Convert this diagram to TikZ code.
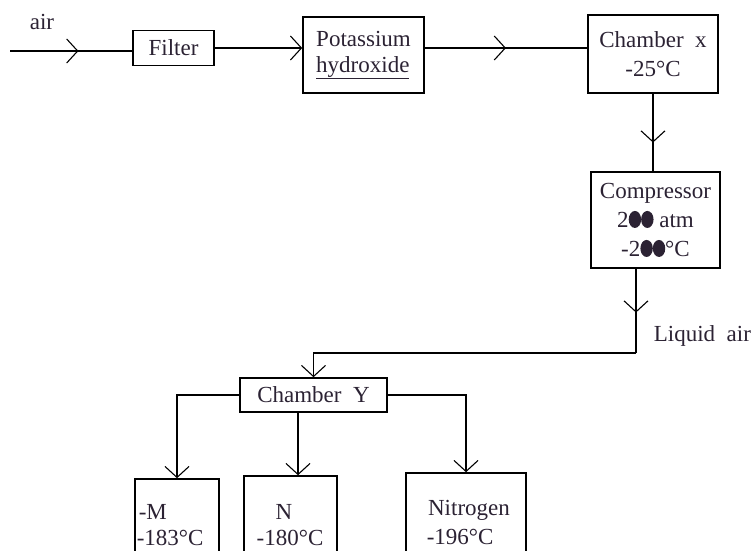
\documentclass[tikz,border=0pt]{standalone}
\usepackage{fontspec}
\setmainfont{Liberation Serif}
\usetikzlibrary{arrows.meta,decorations.markings,calc}
\definecolor{ink}{HTML}{2B2233}
\newcommand\blobchar{\tikz[baseline=0pt]\fill[ink] (0.27em,0.34em) ellipse[x radius=0.27em,y radius=0.37em];}
\tikzset{
  box/.style={draw=black, line width=1.6pt, inner sep=0pt},
  lbl/.style={inner sep=0pt, text=ink, font=\fontsize{23}{29}\selectfont},
  flowmid/.style={postaction={decorate},decoration={markings,mark=at position #1 with {\arrow{>}}}},
}
\begin{document}
\begin{tikzpicture}[x=1pt,y=-1pt, line width=1.6pt,
  >={Straight Barb[length=11pt,width=24pt,line width=1.1pt]},
  every node/.style={text=ink, font=\fontsize{23}{29}\selectfont}]
\useasboundingbox (0,0) rectangle (752,551);
\clip (0,0) rectangle (752,551);

% boxes
\node[box, minimum width=81pt, minimum height=35pt] (filter) at (173.5,48) {Filter};
\node[box, minimum width=121pt, minimum height=76pt, align=left, font=\fontsize{23}{26}\selectfont] (pot) at (363.5,55) {Potassium\\\underline{hydroxide}};
\node[box, minimum width=130pt, minimum height=78pt, align=center] (chx) at (653,54) {Chamber\ \ x\\-25°C};
\node[box, minimum width=129pt, minimum height=96pt, align=center] (comp) at (655.5,220) {Compressor\\2\blobchar\blobchar\ atm\\-2\blobchar\blobchar°C};
\node[box, minimum width=147pt, minimum height=34pt] (chy) at (313.5,395) {Chamber\ \ Y};
\node[box, minimum width=84pt, minimum height=91pt] (mbox) at (177,524.5) {};
\node[box, minimum width=93pt, minimum height=94pt] (nbox) at (290.5,523) {};
\node[box, minimum width=120pt, minimum height=97pt] (nitbox) at (466,521.5) {};

% labels
\node[lbl, anchor=west] (mname) at (138,512) {-M};
\node[lbl, anchor=west] (mtemp) at (136,538) {-183°C};
\node[lbl] (nname) at (284,512) {N};
\node[lbl] (ntemp) at (290,538) {-180°C};
\node[lbl] (nitname) at (469,510) {Nitrogen};
\node[lbl, anchor=west] (nittemp) at (426,537) {-196°C};
\node[lbl] (airlbl) at (42,22) {air};
\node[lbl, anchor=west] (liqlbl) at (653,336) {Liquid\ \ air};

% connectors
\coordinate (airstart) at (10,51);
\draw[flowmid=0.56] (airstart) -- (airstart -| filter.west);
\draw[->] (filter.east) -- (filter.east -| pot.west);
\draw[flowmid=0.5] (pot.east |- filter.east) -- (chx.west |- filter.east);
\draw[flowmid=0.63] (chx.south) -- (chx.south |- comp.north);
\coordinate (liqturn) at (636,353);
\draw[flowmid=0.52] (liqturn |- comp.south) -- (liqturn);
\draw[->] (liqturn) -| (chy.north);
\draw[->] (chy.west) -| (mbox.north);
\coordinate (ndrop) at (298,395);
\draw[->] (ndrop |- chy.south) -- (ndrop |- nbox.north);
\draw[->] (chy.east) -| (nitbox.north);
\end{tikzpicture}
\end{document}
